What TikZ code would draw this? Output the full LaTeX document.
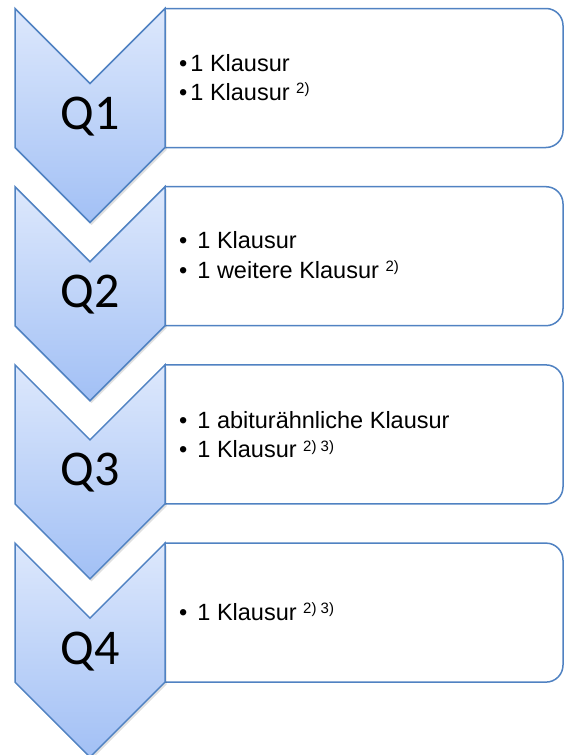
\documentclass[tikz,border=0pt]{standalone}
\usepackage{fontspec}
\setmainfont{Liberation Sans}
\newfontfamily\qfont{Carlito}
\definecolor{edgeblue}{HTML}{5082C2}
\definecolor{ctop}{HTML}{DDE8FC}
\definecolor{cbot}{HTML}{A2C0F5}
\newcommand\supr[1]{\raisebox{6.5pt}{\fontsize{15}{15}\selectfont #1}}
\begin{document}
\begin{tikzpicture}[x=1pt,y=-1pt,line join=miter]
\tikzset{
  chev/.style={top color=ctop,bottom color=cbot,draw=edgeblue,line width=1.5pt},
  chevshadow/.style={fill=black,opacity=0.12,draw=none},
  box/.style={draw=edgeblue,fill=white,line width=1.5pt},
  qlab/.style={font=\qfont\fontsize{50}{60}\selectfont,anchor=base,inner sep=0pt},
  item/.style={font=\fontsize{23.5}{28}\selectfont,anchor=base west,inner sep=0pt}
}
\useasboundingbox (0,0) rectangle (564,755);
\foreach \i in {0,1,2,3} {
  \pgfmathsetmacro\T{8.5+178.2*\i}
  % box
  \draw[box] (165,\T) -- (546,\T) arc[start angle=270,end angle=360,radius=17]
     -- (563,\T+122) arc[start angle=0,end angle=90,radius=17]
     -- (165,\T+139) -- cycle;
  % shadow
  \path[chevshadow] (16.5,\T+2.5) -- (91.5,\T+77.5) -- (166.5,\T+2.5) -- (166.5,\T+141.5)
     -- (91.5,\T+216.5) -- (16.5,\T+141.5) -- cycle;
  % chevron
  \path[chev] (15,\T) -- (90,\T+75) -- (165,\T) -- (165,\T+139)
     -- (90,\T+214) -- (15,\T+139) -- cycle;
}
\node[qlab] (q1) at (90,129.5) {Q1};
\node[qlab] (q2) at (90,307.7) {Q2};
\node[qlab] (q3) at (90,485.9) {Q3};
\node[qlab] (q4) at (90,664.1) {Q4};

\node[item] (t1a) at (179,71) {•\hspace{3pt}1 Klausur};
\node[item] (t1b) at (179,100) {•\hspace{3pt}1 Klausur \supr{2)}};
\node[item] (t2a) at (179,248.5) {•\hspace{10pt}1 Klausur};
\node[item] (t2b) at (179,278) {•\hspace{10pt}1 weitere Klausur \supr{2)}};
\node[item] (t3a) at (179,428) {•\hspace{10pt}1 abiturähnliche Klausur};
\node[item] (t3b) at (179,457.5) {•\hspace{10pt}1 Klausur \supr{2) 3)}};
\node[item] (t4a) at (179,620) {•\hspace{10pt}1 Klausur \supr{2) 3)}};
\end{tikzpicture}
\end{document}
